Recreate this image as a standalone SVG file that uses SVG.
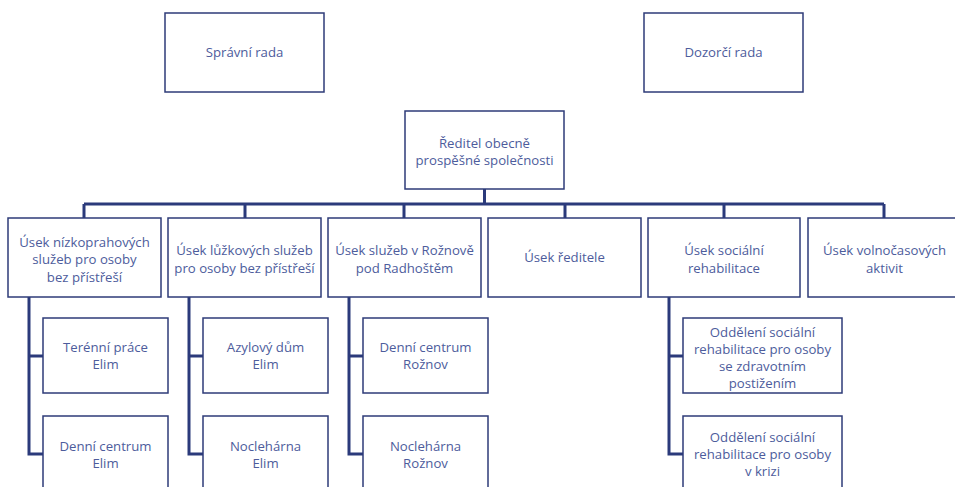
<svg xmlns="http://www.w3.org/2000/svg" width="955" height="487" viewBox="0 0 955 487">
<style>
.box{fill:#ffffff;stroke:#2e3b78;stroke-width:1.5}
.t{font-family:"Open Sans","Liberation Sans",sans-serif;font-size:13.2px;fill:#4d5c9c;text-anchor:middle}
.c{fill:none;stroke:#2b3a7b;stroke-width:3}
</style>
<rect width="955" height="487" fill="#ffffff"/>
<g id="connectors">
<path class="c" d="M484.5 189V204M84 204H884M84 204V218M245 204V218M404 204V218M565 204V218M724 204V218M884 204V218"/>
<path class="c" d="M29 297V454H43M29 356H43"/>
<path class="c" d="M189 297V454H203M189 356H203"/>
<path class="c" d="M349 297V454H363M349 356H363"/>
<path class="c" d="M669 297V454H683M669 356H683"/>
</g>
<g id="spravni-rada"><rect class="box" x="165" y="13" width="159" height="79"/><text class="t" x="244.5" y="56.5">Správní rada</text></g>
<g id="dozorci-rada"><rect class="box" x="644" y="13" width="159" height="79"/><text class="t" x="723.5" y="56.5">Dozorčí rada</text></g>
<g id="reditel"><rect class="box" x="405" y="111" width="159" height="78"/><text class="t" x="484.5" y="147.5">Ředitel obecně</text><text class="t" x="484.5" y="165">prospěšné společnosti</text></g>
<g id="usek-nizkoprahovych"><rect class="box" x="8" y="218" width="153" height="79"/><text class="t" x="84.5" y="246.5">Úsek nízkoprahových</text><text class="t" x="84.5" y="264">služeb pro osoby</text><text class="t" x="84.5" y="281.5">bez přístřeší</text></g>
<g id="usek-luzkovych"><rect class="box" x="168" y="218" width="153" height="79"/><text class="t" x="244.5" y="255">Úsek lůžkových služeb</text><text class="t" x="244.5" y="272.5">pro osoby bez přístřeší</text></g>
<g id="usek-roznov"><rect class="box" x="328" y="218" width="153" height="79"/><text class="t" x="404.5" y="255">Úsek služeb v Rožnově</text><text class="t" x="404.5" y="272.5">pod Radhoštěm</text></g>
<g id="usek-reditele"><rect class="box" x="488" y="218" width="153" height="79"/><text class="t" x="564.5" y="262">Úsek ředitele</text></g>
<g id="usek-socialni"><rect class="box" x="648" y="218" width="152" height="79"/><text class="t" x="724" y="255">Úsek sociální</text><text class="t" x="724" y="272.5">rehabilitace</text></g>
<g id="usek-volnocasovych"><rect class="box" x="808" y="218" width="153" height="79"/><text class="t" x="884.5" y="255">Úsek volnočasových</text><text class="t" x="884.5" y="272.5">aktivit</text></g>
<g id="terenni-prace"><rect class="box" x="43" y="318" width="125" height="75"/><text class="t" x="105.5" y="351.5">Terénní práce</text><text class="t" x="105.5" y="369">Elim</text></g>
<g id="denni-centrum-elim"><rect class="box" x="43" y="416" width="125" height="80"/><text class="t" x="105.5" y="450.5">Denní centrum</text><text class="t" x="105.5" y="468">Elim</text></g>
<g id="azylovy-dum"><rect class="box" x="203" y="318" width="125" height="75"/><text class="t" x="265.5" y="351.5">Azylový dům</text><text class="t" x="265.5" y="369">Elim</text></g>
<g id="noclehrana-elim"><rect class="box" x="203" y="416" width="125" height="80"/><text class="t" x="265.5" y="450.5">Noclehárna</text><text class="t" x="265.5" y="468">Elim</text></g>
<g id="denni-centrum-roznov"><rect class="box" x="363" y="318" width="125" height="75"/><text class="t" x="425.5" y="351.5">Denní centrum</text><text class="t" x="425.5" y="369">Rožnov</text></g>
<g id="noclehrana-roznov"><rect class="box" x="363" y="416" width="125" height="80"/><text class="t" x="425.5" y="450.5">Noclehárna</text><text class="t" x="425.5" y="468">Rožnov</text></g>
<g id="oddeleni-zdravotni"><rect class="box" x="683" y="318" width="159" height="75"/><text class="t" x="762.5" y="336.5">Oddělení sociální</text><text class="t" x="762.5" y="353.5">rehabilitace pro osoby</text><text class="t" x="762.5" y="370.5">se zdravotním</text><text class="t" x="762.5" y="387.5">postižením</text></g>
<g id="oddeleni-krize"><rect class="box" x="683" y="416" width="159" height="80"/><text class="t" x="762.5" y="441.5">Oddělení sociální</text><text class="t" x="762.5" y="458.5">rehabilitace pro osoby</text><text class="t" x="762.5" y="475.5">v krizi</text></g>
</svg>
